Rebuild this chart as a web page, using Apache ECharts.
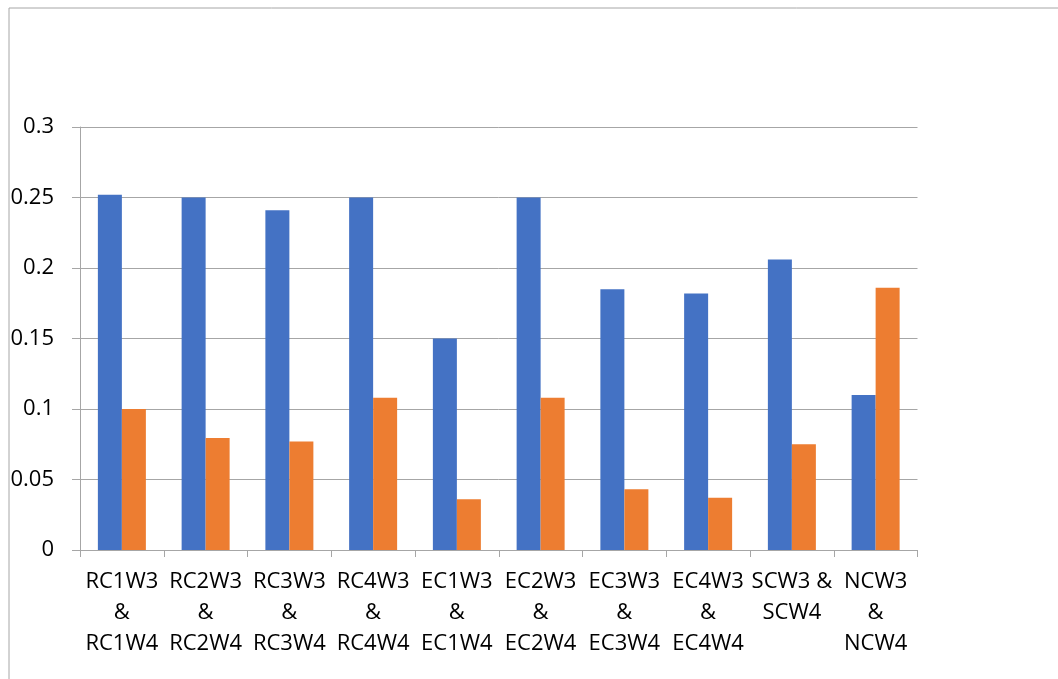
<!DOCTYPE html>
<html>
<head>
<meta charset="utf-8">
<script src="https://cdn.jsdelivr.net/npm/echarts@6/dist/echarts.min.js"></script>
<style>
  html, body { margin: 0; padding: 0; background: #ffffff; }
  #chart { width: 1058px; height: 679px; }
</style>
</head>
<body>
<div id="chart"></div>
<script>
// Pairwise comparisons (W3 vs W4) per channel
const categories = [
  'RC1W3\n&\nRC1W4', 'RC2W3\n&\nRC2W4', 'RC3W3\n&\nRC3W4', 'RC4W3\n&\nRC4W4',
  'EC1W3\n&\nEC1W4', 'EC2W3\n&\nEC2W4', 'EC3W3\n&\nEC3W4', 'EC4W3\n&\nEC4W4',
  'SCW3 &\nSCW4', 'NCW3\n&\nNCW4'
];
const seriesA = [0.252, 0.250, 0.241, 0.250, 0.150, 0.250, 0.185, 0.182, 0.206, 0.110];
const seriesB = [0.100, 0.0795, 0.077, 0.108, 0.036, 0.108, 0.043, 0.037, 0.075, 0.186];
const yTicks = ['0', '0.05', '0.1', '0.15', '0.2', '0.25', '0.3'];

const chart = echarts.init(document.getElementById('chart'), null, { renderer: 'canvas' });
const gray = '#a6a6a6';
const font = '"Open Sans", "Noto Sans", sans-serif';

chart.setOption({
  animation: false,
  backgroundColor: '#ffffff',
  graphic: [{
    type: 'rect',
    shape: { x: 9, y: 8, width: 1200, height: 800 },
    style: { fill: 'none', stroke: gray, lineWidth: 1 },
    silent: true
  }],
  grid: { left: 80, right: 140.5, top: 127, bottom: 129, containLabel: false },
  xAxis: {
    type: 'category',
    data: categories,
    boundaryGap: true,
    axisLine: { show: true, lineStyle: { color: gray, width: 1 } },
    axisTick: { show: true, length: 7, lineStyle: { color: gray } },
    axisLabel: {
      interval: 0,
      margin: 16,
      color: '#000000',
      fontFamily: font,
      fontSize: 22,
      lineHeight: 31
    }
  },
  yAxis: {
    type: 'value',
    min: 0,
    max: 0.3,
    interval: 0.05,
    axisLine: { show: true, lineStyle: { color: gray, width: 1 } },
    axisTick: { show: true, length: 8, lineStyle: { color: gray } },
    splitLine: { show: true, lineStyle: { color: gray, width: 1 } },
    axisLabel: {
      margin: 26,
      color: '#000000',
      fontFamily: font,
      fontSize: 22,
      formatter: (v) => yTicks[Math.round(v / 0.05)]
    }
  },
  series: [
    {
      type: 'bar',
      data: seriesA,
      barWidth: 24,
      barGap: '0%',
      itemStyle: { color: '#4472C4' }
    },
    {
      type: 'bar',
      data: seriesB,
      barWidth: 24,
      barGap: '0%',
      itemStyle: { color: '#ED7D31' }
    }
  ]
});
</script>
</body>
</html>
